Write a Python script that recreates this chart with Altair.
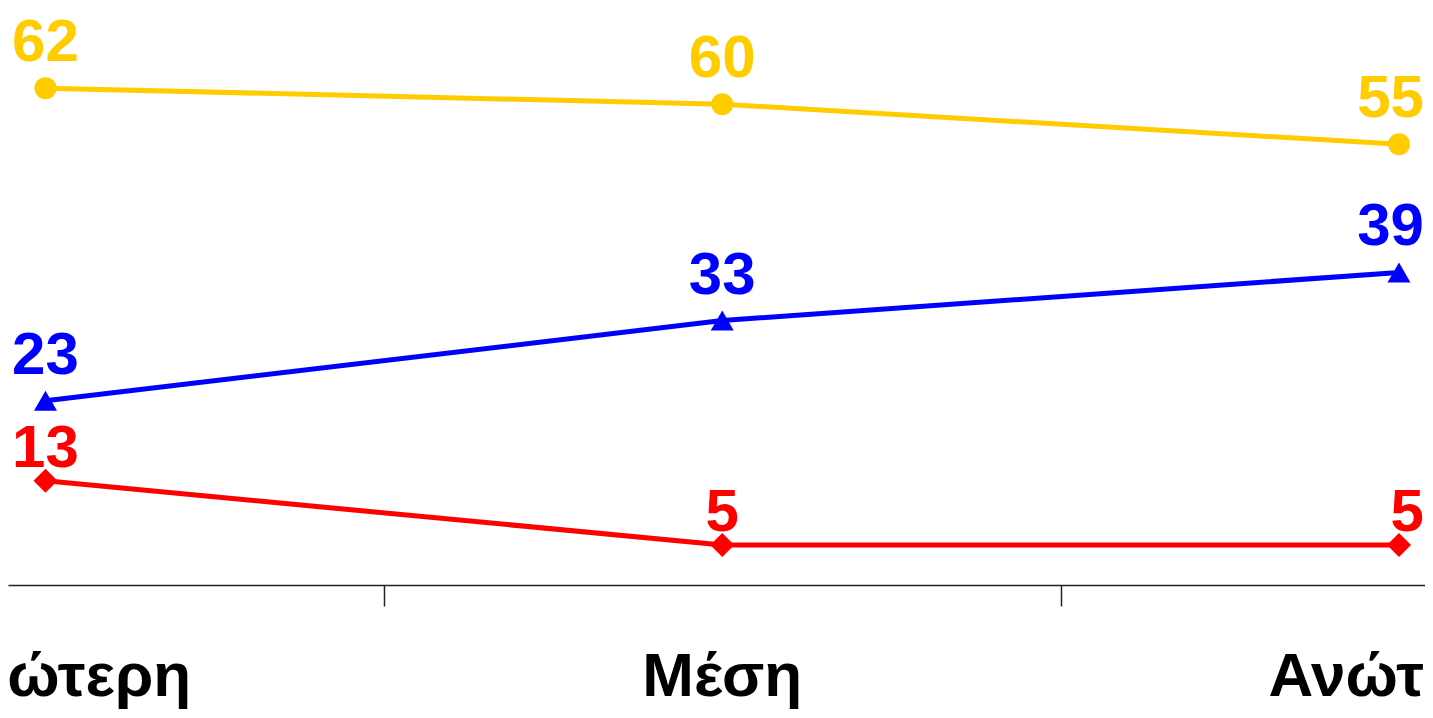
import altair as alt
import pandas as pd

categories = ["Κατώτερη", "Μέση", "Ανώτερη"]
positions = [1, 2, 3]
series_names = ["Σειρά Α", "Σειρά Β", "Σειρά Γ"]
yellow_vals = [62, 60, 55]
blue_vals = [23, 33, 39]
red_vals = [13, 5, 5]
tick_values = [1.5, 2.5]

colors = ["#FFCC00", "#0000FF", "#FF0000"]
shapes = ["circle", "triangle-up", "diamond"]
sizes = [484, 576, 530]
label_dy = [-27, -27, -14]

rows = []
for s, vals in zip(series_names, [yellow_vals, blue_vals, red_vals]):
    for p, c, v in zip(positions, categories, vals):
        rows.append({"series": s, "pos": p, "cat": c, "value": v})
df = pd.DataFrame(rows)
cat_df = pd.DataFrame({"pos": positions, "cat": categories})

FONT = "Liberation Sans Narrow, Liberation Sans, Arial, sans-serif"

x_enc = alt.X(
    "pos:Q",
    scale=alt.Scale(domain=[0.94459, 3.03843], nice=False, zero=False),
    axis=alt.Axis(values=tick_values, labels=False, title=None, ticks=True,
                  tickSize=21, tickColor="#222222", tickWidth=1.5,
                  domainColor="#222222", domainWidth=1.5, grid=False),
)
y_enc = alt.Y("value:Q", scale=alt.Scale(domain=[0, 72], nice=False), axis=None)
color_enc = alt.Color("series:N", scale=alt.Scale(domain=series_names, range=colors), legend=None)

base = alt.Chart(df)
lines = base.mark_line(strokeWidth=5).encode(x=x_enc, y=y_enc, color=color_enc, detail="series:N")
points = base.mark_point(filled=True, opacity=1).encode(
    x="pos:Q", y="value:Q", color=color_enc,
    shape=alt.Shape("series:N", scale=alt.Scale(domain=series_names, range=shapes), legend=None),
    size=alt.Size("series:N", scale=alt.Scale(domain=series_names, range=sizes), legend=None),
)

last_pos = positions[-1]
texts = []
for s, col, dy in zip(series_names, colors, label_dy):
    texts.append(
        base.transform_filter((alt.datum.series == s) & (alt.datum.pos < last_pos)).mark_text(
            font=FONT, fontSize=60, fontWeight="bold", color=col, dy=dy,
            baseline="alphabetic", align="center",
        ).encode(x="pos:Q", y="value:Q", text="value:Q")
    )
    texts.append(
        base.transform_filter((alt.datum.series == s) & (alt.datum.pos == last_pos)).mark_text(
            font=FONT, fontSize=60, fontWeight="bold", color=col, dy=dy, dx=25,
            baseline="alphabetic", align="right",
        ).encode(x="pos:Q", y="value:Q", text="value:Q")
    )

cat_labels = alt.Chart(cat_df).mark_text(
    font=FONT, fontSize=62, fontWeight="bold", color="black",
    baseline="alphabetic", align="center",
).encode(x="pos:Q", y=alt.value(688), text="cat:N")

chart = alt.layer(lines, points, *texts, cat_labels).properties(
    width=1417, height=577,
    autosize=alt.AutoSizeParams(type="none"),
    padding={"left": 0, "top": 0, "right": 0, "bottom": 125},
).configure_view(stroke=None)

chart.save("out.html", embed_options={"renderer": "svg", "actions": False})
